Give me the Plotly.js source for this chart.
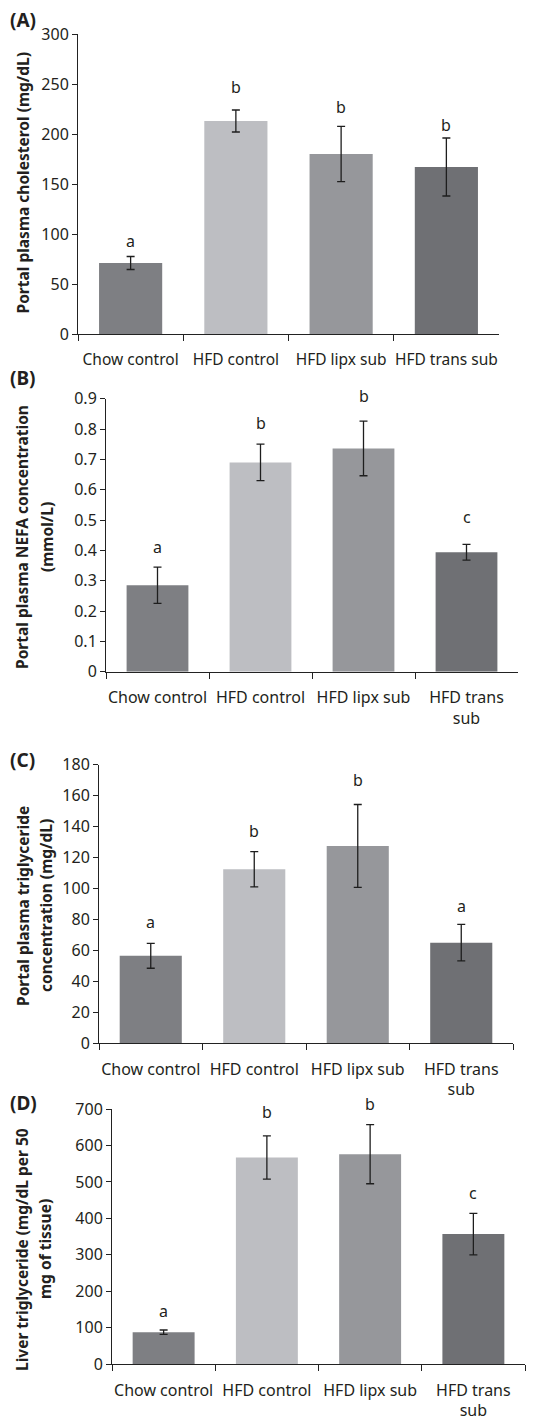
<!DOCTYPE html>
<html>
<head>
<meta charset="utf-8">
<script src="https://cdn.plot.ly/plotly-3.0.1.min.js"></script>
<style>html,body{margin:0;padding:0;background:#fff;}#chart{width:559px;height:1421px;}</style>
</head>
<body>
<div id="chart"></div>
<script>
// ---------- DATA ----------
const categories = ["Chow control", "HFD control", "HFD lipx sub", "HFD trans sub"];
const tickLabelsA = ["Chow control", "HFD control", "HFD lipx sub", "HFD trans sub"];
const tickLabelsWrapped = ["Chow control", "HFD control", "HFD lipx sub", "HFD trans<br>sub"];

const cholesterol = [71, 213, 180, 167];
const cholesterolErr = [6.5, 11, 27.7, 29];
const cholesterolLetters = ["a", "b", "b", "b"];
const cholesterolLetterY = [85, 239, 219, 201];

const nefa = [0.285, 0.690, 0.736, 0.394];
const nefaErr = [0.06, 0.06, 0.09, 0.026];
const nefaLetters = ["a", "b", "b", "c"];
const nefaLetterY = [0.385, 0.793, 0.881, 0.483];

const portalTG = [56.5, 112.5, 127.5, 65];
const portalTGErr = [8, 11.4, 26.8, 11.8];
const portalTGLetters = ["a", "b", "b", "a"];
const portalTGLetterY = [73, 132, 165, 83.5];

const liverTG = [88, 567, 576, 357];
const liverTGErr = [6, 59.5, 81, 57];
const liverTGLetters = ["a", "b", "b", "c"];
const liverTGLetterY = [123, 670, 692, 448];

const barColors = ["#7e7f83", "#bdbec2", "#96979b", "#6f7074"];

// ---------- LAYOUT HELPERS ----------
const W = 559, H = 1421;
const px = v => v / W;
const py = v => 1 - v / H;
const TXT = "#231f20";
const FONT = "Noto Sans, Open Sans, sans-serif";

const panels = [
  {vals: cholesterol, err: cholesterolErr, letters: cholesterolLetters, ly: cholesterolLetterY,
   ticks: tickLabelsA, range: [0, 300], dtick: 50, x0: 78, x1: 499, y0: 34, y1: 334},
  {vals: nefa, err: nefaErr, letters: nefaLetters, ly: nefaLetterY,
   ticks: tickLabelsWrapped, range: [0, 0.9], dtick: 0.1, x0: 106, x1: 518, y0: 398.7, y1: 671.7},
  {vals: portalTG, err: portalTGErr, letters: portalTGLetters, ly: portalTGLetterY,
   ticks: tickLabelsWrapped, range: [0, 180], dtick: 20, x0: 99, x1: 513, y0: 764.7, y1: 1043.3},
  {vals: liverTG, err: liverTGErr, letters: liverTGLetters, ly: liverTGLetterY,
   ticks: tickLabelsWrapped, range: [0, 700], dtick: 100, x0: 112, x1: 525, y0: 1109, y1: 1364.3}
];

const traces = [];
const layout = {
  width: W, height: H,
  margin: {l: 0, r: 0, t: 0, b: 0},
  paper_bgcolor: "#fff", plot_bgcolor: "#fff",
  showlegend: false,
  bargap: 0.4,
  font: {family: FONT, color: TXT, size: 16},
  annotations: []
};

panels.forEach((p, i) => {
  const n = i === 0 ? "" : String(i + 1);
  const xa = "x" + n, ya = "y" + n;
  traces.push({
    type: "bar", x: categories, y: p.vals, xaxis: xa, yaxis: ya,
    marker: {color: barColors, line: {width: 0}},
    error_y: {type: "data", array: p.err, visible: true, color: "#1e1e1e", thickness: 1.3, width: 4},
    hoverinfo: "skip"
  });
  layout["xaxis" + n] = {
    domain: [px(p.x0), px(p.x1)], anchor: ya,
    type: "category", range: [-0.5, 3.5],
    tickmode: "array", tickvals: categories, ticktext: p.ticks,
    tickson: "boundaries", ticks: "outside", ticklen: 6, tickwidth: 1, tickcolor: "#222",
    tickangle: 0, ticklabelstandoff: 11,
    showline: true, linecolor: "#222", linewidth: 1,
    showgrid: false, zeroline: false, fixedrange: true,
    tickfont: {family: FONT, size: i === 0 ? 15.5 : 16, color: TXT}
  };
  layout["yaxis" + n] = {
    domain: [py(p.y1), py(p.y0)], anchor: xa,
    range: p.range, dtick: p.dtick, tick0: 0,
    ticks: "outside", ticklen: 5, tickwidth: 1, tickcolor: "#222",
    showline: true, linecolor: "#222", linewidth: 1,
    showgrid: false, zeroline: false, fixedrange: true,
    tickfont: {family: FONT, size: 16, color: TXT}
  };
  p.letters.forEach((l, k) => {
    layout.annotations.push({
      xref: xa, yref: ya, x: categories[k], y: p.ly[k],
      text: l, showarrow: false, yanchor: "bottom", yshift: -5,
      font: {family: FONT, size: 16, color: TXT}
    });
  });
});

// Panel labels
[["(A)", 20], ["(B)", 378], ["(C)", 760], ["(D)", 1103]].forEach(([t, y]) => {
  layout.annotations.push({
    xref: "paper", yref: "paper", x: px(8), y: py(y), xanchor: "left", yanchor: "middle",
    text: "<b>" + t + "</b>", showarrow: false,
    font: {family: FONT, size: 19, color: TXT}
  });
});

// Y-axis titles
const yTitles = [
  ["Portal plasma cholesterol (mg/dL)", 22, 183.5],
  ["Portal plasma NEFA concentration", 22, 537],
  ["(mmol/L)", 47, 537],
  ["Portal plasma triglyceride", 23, 906],
  ["concentration (mg/dL)", 46, 906],
  ["Liver triglyceride (mg/dL per 50", 22, 1250],
  ["mg of tissue)", 45, 1249]
];
yTitles.forEach(([t, x, y]) => {
  layout.annotations.push({
    xref: "paper", yref: "paper", x: px(x), y: py(y), xanchor: "center", yanchor: "middle",
    text: "<b>" + t + "</b>", textangle: -90, showarrow: false,
    font: {family: FONT, size: 15.5, color: TXT}
  });
});

Plotly.newPlot("chart", traces, layout, {staticPlot: true, displayModeBar: false});
</script>
</body>
</html>
